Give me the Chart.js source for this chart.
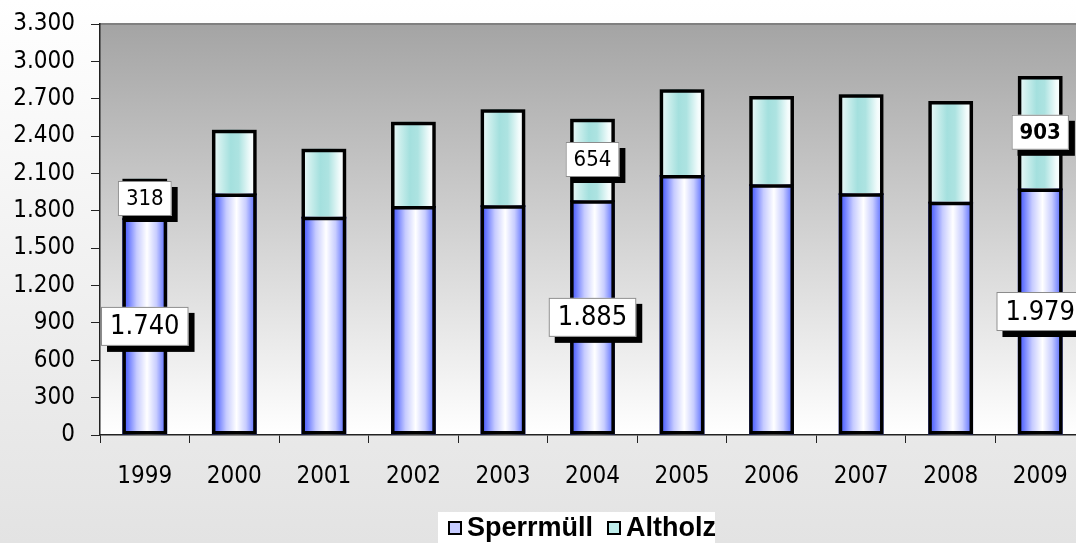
<!DOCTYPE html>
<html>
<head>
<meta charset="utf-8">
<script src="https://cdn.jsdelivr.net/npm/chart.js@4.4.1/dist/chart.umd.min.js"></script>
<style>
    html, body { margin: 0; padding: 0; }
    body {
        width: 1076px; height: 543px; overflow: hidden; position: relative;
        background: linear-gradient(to bottom, #ffffff 0%, #e3e3e3 100%);
    }
    #wrap { position: absolute; left: 0; top: 0; width: 1085px; height: 543px; }
    #legend {
        position: absolute; left: 438px; top: 512px; width: 277px; height: 31px;
        background: #ffffff; display: flex; align-items: center; padding-left: 10px; box-sizing: border-box;
        font-family: "Liberation Sans", Arial, sans-serif; font-weight: bold; font-size: 27px; color: #000;
    }
    #legend .item { display: flex; align-items: center; margin-right: 14px; }
    #legend .box { width: 10px; height: 10px; border: 2px solid #000; margin-right: 5px; }
</style>
</head>
<body>
<div id="wrap"><canvas id="wasteChart" width="1085" height="543"></canvas></div>
<div id="legend"></div>
<script>
// Sperrmüll / Altholz in t, 1999-2009
const years = ['1999', '2000', '2001', '2002', '2003', '2004', '2005', '2006', '2007', '2008', '2009'];
const sperrmuell = [1740, 1940, 1753, 1839, 1844, 1885, 2088, 2013, 1941, 1873, 1979];
const altholz = [318, 511, 546, 676, 771, 654, 688, 709, 794, 809, 903];
const seriesNames = ['Sperrmüll', 'Altholz'];
const yTicks = [0, 300, 600, 900, 1200, 1500, 1800, 2100, 2400, 2700, 3000, 3300];
const labelledYears = ['1999', '2004', '2009']; // only these bars carry value labels

const FONT = '"DejaVu Sans Condensed", "DejaVu Sans", sans-serif';

// German number format, e.g. 1740 -> 1.740
function fmt(v) {
    return String(v).replace(/\B(?=(\d{3})+(?!\d))/g, '.');
}

// horizontal gradient across one bar
function barGradient(ctx, stops, fallback) {
    const chart = ctx.chart;
    const xs = chart.scales.x;
    if (!xs || !xs.width) return fallback;
    const catW = xs.width / years.length;
    const w = catW * 0.5;
    const cx = xs.getPixelForValue(ctx.dataIndex);
    const g = chart.ctx.createLinearGradient(cx - w / 2, 0, cx + w / 2, 0);
    stops.forEach(s => g.addColorStop(s[0], s[1]));
    return g;
}
const blueStops = [[0, '#3f50ff'], [0.12, '#6676ff'], [0.32, '#c6cbff'], [0.55, '#ffffff'], [0.76, '#c8cdff'], [0.92, '#7282ff'], [1, '#5464ff']];
const tealStops = [[0, '#f2fbfb'], [0.22, '#c8edeb'], [0.42, '#a4e0de'], [0.6, '#ade3e1'], [0.86, '#f3fcfc'], [1, '#ffffff']];

// background of the plot area: grey at the top fading to white
const plotBackground = {
    id: 'plotBackground',
    beforeDraw(chart) {
        const { ctx, chartArea: a } = chart;
        const g = ctx.createLinearGradient(0, a.top, 0, a.bottom);
        g.addColorStop(0, '#a4a4a4');
        g.addColorStop(1, '#ffffff');
        ctx.save();
        ctx.fillStyle = g;
        ctx.fillRect(a.left, a.top, a.right - a.left, a.bottom - a.top);
        ctx.strokeStyle = '#808080';
        ctx.lineWidth = 2;
        ctx.beginPath();
        ctx.moveTo(a.left, a.top);
        ctx.lineTo(a.right, a.top);
        ctx.stroke();
        ctx.restore();
    }
};

// heavy black outline round every bar segment (upper segment without its bottom edge)
const barOutline = {
    id: 'barOutline',
    afterDatasetsDraw(chart) {
        const ctx = chart.ctx;
        const lw = 3.5;
        ctx.save();
        ctx.strokeStyle = '#000';
        ctx.lineWidth = lw;
        ctx.lineJoin = 'miter';
        chart.data.datasets.forEach((ds, di) => {
            chart.getDatasetMeta(di).data.forEach(el => {
                const { x, y, base, width } = el.getProps(['x', 'y', 'base', 'width'], true);
                const top = Math.min(y, base) + lw / 2, bot = Math.max(y, base) - lw / 2;
                const l = x - width / 2 + lw / 2, r = x + width / 2 - lw / 2;
                ctx.beginPath();
                if (di === 0) {
                    ctx.rect(l, top, r - l, bot - top);
                } else {
                    ctx.moveTo(l, bot + lw);
                    ctx.lineTo(l, top);
                    ctx.lineTo(r, top);
                    ctx.lineTo(r, bot + lw);
                }
                ctx.stroke();
            });
        });
        ctx.restore();
    }
};

// white value boxes with a black drop shadow, centred on the segment
const valueBoxes = {
    id: 'valueBoxes',
    afterDatasetsDraw(chart) {
        const ctx = chart.ctx;
        ctx.save();
        chart.data.datasets.forEach((ds, di) => {
            const meta = chart.getDatasetMeta(di);
            const big = di === 0;
            ds.data.forEach((v, i) => {
                if (!labelledYears.includes(years[i])) return;
                const el = meta.data[i];
                const cy = (el.y + el.base) / 2;
                const bold = !big && years[i] === '2009';
                ctx.font = (bold ? 'bold ' : '') + (big ? 27 : 22) + 'px ' + FONT;
                const text = fmt(v);
                const tw = ctx.measureText(text).width;
                const w = tw + (big ? 18 : 16);
                const h = big ? 39 : 35;
                const x = el.x - w / 2;
                const y = cy - h / 2;
                ctx.fillStyle = '#000';
                ctx.fillRect(x + 6, y + 6, w, h);
                ctx.fillStyle = '#fff';
                ctx.fillRect(x, y, w, h);
                ctx.strokeStyle = '#8c8c8c';
                ctx.lineWidth = 1;
                ctx.strokeRect(x + 0.5, y + 0.5, w - 1, h - 1);
                ctx.fillStyle = '#000';
                ctx.textAlign = 'center';
                ctx.textBaseline = 'middle';
                ctx.fillText(text, el.x, cy + 1);
            });
        });
        ctx.restore();
    }
};

const axisColor = '#222222';

new Chart(document.getElementById('wasteChart'), {
    type: 'bar',
    data: {
        labels: years,
        datasets: [{
            label: seriesNames[0],
            data: sperrmuell,
            backgroundColor: c => barGradient(c, blueStops, '#6a7aff'),
            borderWidth: 0,
            barPercentage: 0.5,
            categoryPercentage: 1
        }, {
            label: seriesNames[1],
            data: altholz,
            backgroundColor: c => barGradient(c, tealStops, '#bfeae8'),
            borderWidth: 0,
            barPercentage: 0.5,
            categoryPercentage: 1
        }]
    },
    options: {
        responsive: false,
        animation: false,
        layout: { padding: { top: 24, left: 0, right: 0, bottom: 0 } },
        plugins: {
            legend: { display: false },
            tooltip: { enabled: false }
        },
        scales: {
            x: {
                stacked: true,
                grid: {
                    drawOnChartArea: false,
                    drawTicks: true,
                    tickLength: 8,
                    color: axisColor,
                    offset: true
                },
                border: { color: axisColor, width: 1.5 },
                ticks: {
                    color: '#000',
                    padding: 19,
                    font: { family: FONT, size: 24 },
                    maxRotation: 0
                },
                afterFit: s => {
                    s.height = 108;
                    s.paddingLeft = 0; s.paddingRight = 0; s.paddingTop = 0; s.paddingBottom = 0;
                }
            },
            y: {
                stacked: true,
                min: 0,
                max: 3300,
                afterBuildTicks: s => { s.ticks = yTicks.map(v => ({ value: v })); },
                grid: {
                    drawOnChartArea: false,
                    drawTicks: true,
                    tickLength: 9,
                    color: axisColor
                },
                border: { color: axisColor, width: 1.5 },
                ticks: {
                    color: '#000',
                    padding: 16,
                    font: { family: FONT, size: 24 },
                    callback: v => fmt(v)
                },
                afterFit: s => {
                    s.width = 100;
                    s.paddingLeft = 0; s.paddingRight = 0; s.paddingTop = 0; s.paddingBottom = 0;
                }
            }
        }
    },
    plugins: [plotBackground, barOutline, valueBoxes]
});

// legend built from the series names
const legendColors = ['#c6ccff', '#bfeeec'];
const legend = document.getElementById('legend');
seriesNames.forEach((name, i) => {
    const item = document.createElement('span');
    item.className = 'item';
    const box = document.createElement('span');
    box.className = 'box';
    box.style.background = legendColors[i];
    item.appendChild(box);
    item.appendChild(document.createTextNode(name));
    legend.appendChild(item);
});
</script>
</body>
</html>
